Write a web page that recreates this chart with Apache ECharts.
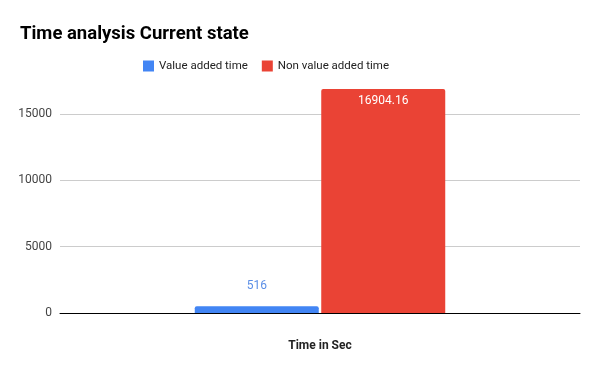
<!DOCTYPE html>
<html><head><meta charset="utf-8">
<script src="https://cdn.jsdelivr.net/npm/echarts@6/dist/echarts.min.js"></script>
<style>html,body{margin:0;padding:0;background:#fff}#c{width:600px;height:371px}</style>
</head><body><div id="c"></div>
<script>
const categories = [''];
const seriesNames = ['Value added time', 'Non value added time'];
const valueAdded = [516];
const nonValueAdded = [16904.16];
const yTicks = [0, 5000, 10000, 15000];

const chart = echarts.init(document.getElementById('c'), null, {renderer: 'canvas'});
chart.setOption({
  animation: false,
  backgroundColor: '#fff',
  textStyle: {fontFamily: 'Roboto, Arial, sans-serif'},
  title: {
    text: 'Time analysis Current state', left: 15, top: 20,
    textStyle: {fontSize: 18.5, fontWeight: 'bold', color: '#000', fontFamily: 'Roboto, Arial, sans-serif'}
  },
  legend: {
    top: 55, left: 138, itemWidth: 11, itemHeight: 11, itemGap: 14,
    icon: 'rect',
    textStyle: {fontSize: 11.5, color: '#222'},
    data: seriesNames
  },
  grid: {left: 60, right: 20, top: 81, bottom: 58},
  xAxis: {
    type: 'category', data: categories,
    name: 'Time in Sec', nameLocation: 'middle', nameGap: 27,
    nameTextStyle: {fontSize: 12, fontWeight: 'bold', color: '#222'},
    axisLine: {lineStyle: {color: '#000', width: 1}},
    axisTick: {alignWithLabel: true, length: 5, lineStyle: {color: '#000'}},
    axisLabel: {show: false}
  },
  yAxis: {
    type: 'value', min: 0, max: 17500, interval: 5000,
    axisLine: {show: false}, axisTick: {show: false},
    axisLabel: {fontSize: 12, color: '#444', margin: 8, showMaxLabel: false,
      formatter: v => String(v)},
    splitLine: {lineStyle: {color: '#ccc'}, showMaxLine: false}
  },
  series: [
    {
      name: seriesNames[0], type: 'bar', data: valueAdded,
      barWidth: 124, barGap: '2%',
      itemStyle: {color: '#4285F4', borderRadius: [2, 2, 0, 0]},
      label: {show: true, position: 'top', distance: 14, color: '#5b8ee6', fontSize: 12}
    },
    {
      name: seriesNames[1], type: 'bar', data: nonValueAdded,
      barWidth: 124,
      itemStyle: {color: '#EA4335', borderRadius: [2, 2, 0, 0]},
      label: {show: true, position: 'insideTop', distance: 6, color: '#fff', fontSize: 12}
    }
  ]
});
</script></body></html>
